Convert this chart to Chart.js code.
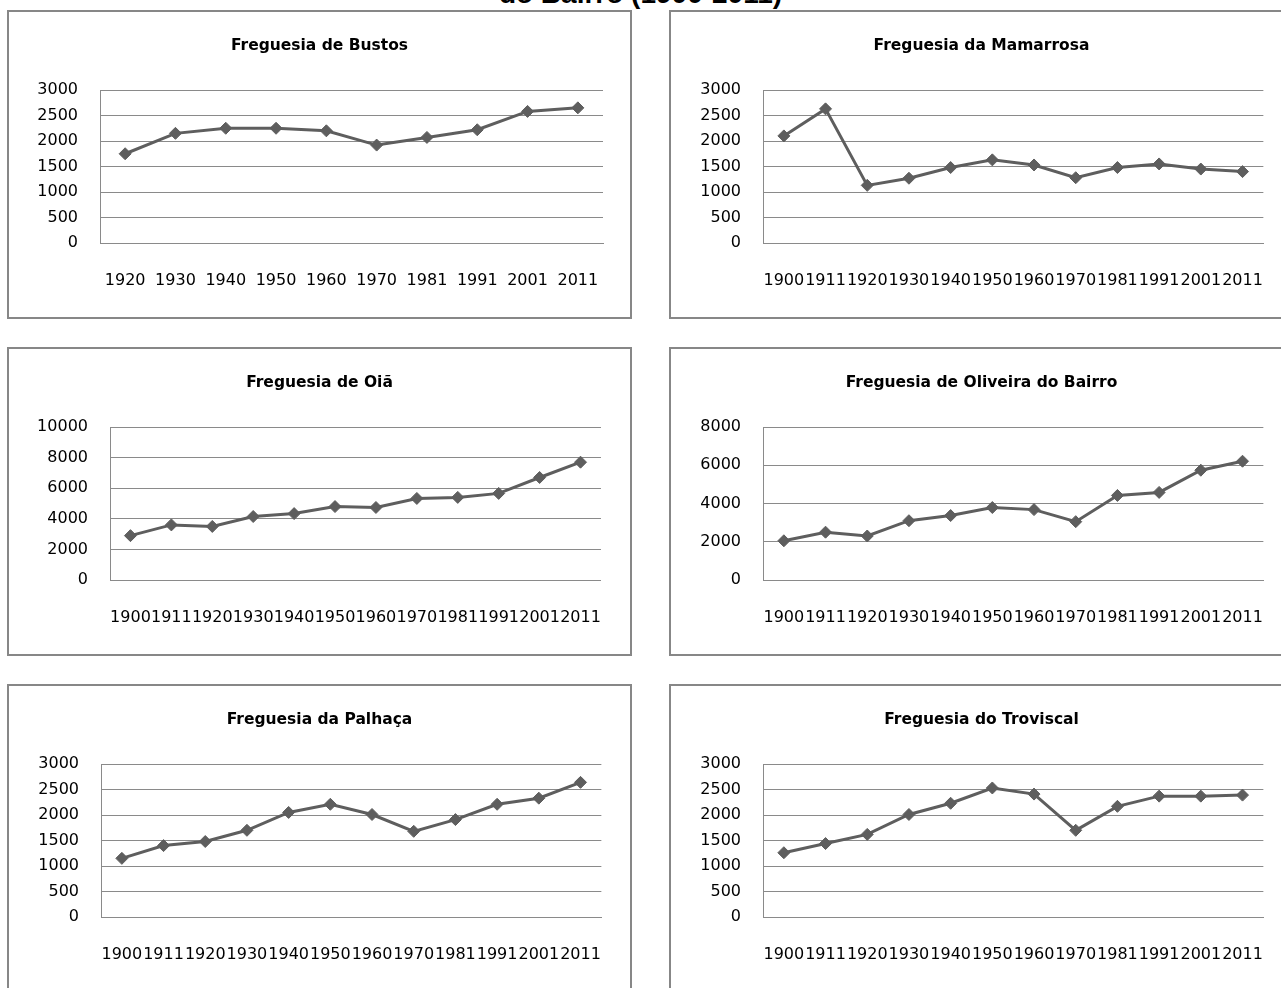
<!DOCTYPE html>
<html lang="pt">
<head>
<meta charset="utf-8">
<title>População das freguesias de Oliveira do Bairro (1900-2011)</title>
<script src="https://cdn.jsdelivr.net/npm/chart.js@4.4.1/dist/chart.umd.min.js"></script>
<style>
  html, body { margin: 0; padding: 0; background: #ffffff; }
  body { width: 1281px; height: 988px; position: relative; overflow: hidden; }
  .heading {
    position: absolute; left: 0; width: 1281px; top: -22px; text-align: center;
    font-family: "Liberation Sans", Arial, sans-serif; font-weight: bold; font-size: 28px;
    color: #000; line-height: 32px; white-space: nowrap;
  }
  .panel {
    position: absolute; width: 625px; height: 309px; box-sizing: border-box;
    border: 2px solid #878787; background: #fff;
  }
  .panel canvas { position: absolute; left: 0; top: 0; }
</style>
</head>
<body>
<div class="heading">do Bairro (1900-2011)</div>

<div class="panel" style="left:7px;top:10px"><canvas id="c1" width="621" height="305"></canvas></div>
<div class="panel" style="left:669px;top:10px"><canvas id="c2" width="621" height="305"></canvas></div>
<div class="panel" style="left:7px;top:347px"><canvas id="c3" width="621" height="305"></canvas></div>
<div class="panel" style="left:669px;top:347px"><canvas id="c4" width="621" height="305"></canvas></div>
<div class="panel" style="left:7px;top:684px"><canvas id="c5" width="621" height="305"></canvas></div>
<div class="panel" style="left:669px;top:684px"><canvas id="c6" width="621" height="305"></canvas></div>

<script>
// Census years
const yearsBustos = ['1920', '1930', '1940', '1950', '1960', '1970', '1981', '1991', '2001', '2011'];
const yearsFull = ['1900', '1911', '1920', '1930', '1940', '1950', '1960', '1970', '1981', '1991', '2001', '2011'];

// Resident population per parish
const popBustos = [1750, 2150, 2250, 2250, 2200, 1920, 2070, 2220, 2580, 2650];
const popMamarrosa = [2100, 2630, 1130, 1270, 1480, 1630, 1530, 1280, 1480, 1550, 1450, 1400];
const popOia = [2900, 3600, 3500, 4150, 4340, 4800, 4740, 5330, 5400, 5660, 6700, 7700];
const popOliveira = [2050, 2500, 2300, 3100, 3370, 3790, 3680, 3050, 4420, 4580, 5740, 6210];
const popPalhaca = [1150, 1400, 1480, 1700, 2050, 2210, 2010, 1680, 1910, 2210, 2330, 2640];
const popTroviscal = [1260, 1440, 1620, 2010, 2230, 2530, 2410, 1700, 2170, 2370, 2370, 2390];

// Panel titles
const titles = [
  'Freguesia de Bustos',
  'Freguesia da Mamarrosa',
  'Freguesia de Oiã',
  'Freguesia de Oliveira do Bairro',
  'Freguesia da Palhaça',
  'Freguesia do Troviscal'
];

// Value-axis ranges [max, step]
const axisBustos = [3000, 500];
const axisMamarrosa = [3000, 500];
const axisOia = [10000, 2000];
const axisOliveira = [8000, 2000];
const axisPalhaca = [3000, 500];
const axisTroviscal = [3000, 500];

const LINE = '#5e5e5e';
const GRID = '#8a8a8a';
const TICK_FONT = { family: '"DejaVu Sans", sans-serif', size: 16 };
const TITLE_FONT = { family: '"DejaVu Sans", sans-serif', size: 15.5, weight: 'bold', lineHeight: 1.2 };

function makeChart(id, title, labels, values, axis, leftWidth) {
  const ctx = document.getElementById(id);
  return new Chart(ctx, {
    type: 'line',
    data: {
      labels: labels,
      datasets: [{
        data: values,
        borderColor: LINE,
        backgroundColor: LINE,
        borderWidth: 3,
        tension: 0,
        pointStyle: 'rectRot',
        pointRadius: 6,
        pointBorderWidth: 1,
        pointBackgroundColor: LINE,
        pointBorderColor: LINE
      }]
    },
    options: {
      responsive: false,
      animation: false,
      events: [],
      layout: { padding: 0 },
      plugins: {
        legend: { display: false },
        tooltip: { enabled: false },
        title: {
          display: true,
          text: title,
          color: '#000',
          font: TITLE_FONT,
          padding: { top: 24.7, bottom: 34.7 }
        }
      },
      scales: {
        x: {
          type: 'category',
          offset: true,
          grid: { display: false, drawTicks: false },
          border: { display: true, color: GRID, width: 1 },
          ticks: {
            color: '#000', font: TICK_FONT, padding: 28,
            autoSkip: false, maxRotation: 0, minRotation: 0
          },
          afterFit: (s) => { s.height = 74; }
        },
        y: {
          min: 0,
          max: axis[0],
          grid: { color: GRID, lineWidth: 1, drawTicks: false },
          border: { display: true, color: GRID, width: 1 },
          ticks: {
            color: '#000', font: TICK_FONT, padding: 22, stepSize: axis[1],
            callback: (v) => String(v)
          },
          afterFit: (s) => { s.width = leftWidth; }
        },
        // blank margin to the right of the plot area
        gap: {
          type: 'linear',
          position: 'right',
          display: true,
          grid: { display: false, drawTicks: false },
          border: { display: false },
          ticks: { display: false },
          afterFit: (s) => { s.width = 27; }
        }
      }
    }
  });
}

makeChart('c1', titles[0], yearsBustos, popBustos, axisBustos, 91);
makeChart('c2', titles[1], yearsFull, popMamarrosa, axisMamarrosa, 92);
makeChart('c3', titles[2], yearsFull, popOia, axisOia, 101);
makeChart('c4', titles[3], yearsFull, popOliveira, axisOliveira, 92);
makeChart('c5', titles[4], yearsFull, popPalhaca, axisPalhaca, 92);
makeChart('c6', titles[5], yearsFull, popTroviscal, axisTroviscal, 92);
</script>
</body>
</html>
